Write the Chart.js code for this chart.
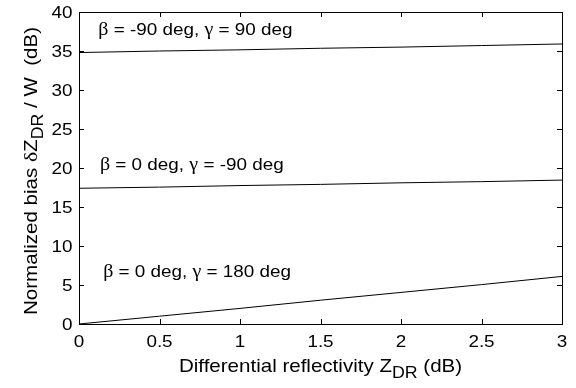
<!DOCTYPE html>
<html><head><meta charset="utf-8">
<script src="https://cdn.jsdelivr.net/npm/chart.js@4.4.1/dist/chart.umd.min.js"></script>
<style>html,body{margin:0;padding:0;background:#fff}#wrap{width:576px;height:388px}</style>
</head><body><div id="wrap"><canvas id="c" width="576" height="388"></canvas></div>
<script>
const zdr = [0, 0.5, 1, 1.5, 2, 2.5, 3];
const biasA = [34.8, 35.0, 35.15, 35.35, 35.5, 35.7, 35.9];
const biasB = [17.4, 17.55, 17.75, 17.9, 18.1, 18.25, 18.45];
const biasC = [0, 1.0, 2.0, 3.05, 4.05, 5.05, 6.1];
const xTicks = [0, 0.5, 1, 1.5, 2, 2.5, 3];
const yTicks = [0, 5, 10, 15, 20, 25, 30, 35, 40];
const xTickLabels = ['0', '0.5', '1', '1.5', '2', '2.5', '3'];
const yTickLabels = ['0', '5', '10', '15', '20', '25', '30', '35', '40'];
const labels = [
  {x: 0.12, y: 37.6, parts: [["β","g"],[" = -90 deg, ","s"],["γ","g"],[" = 90 deg","s"]]},
  {x: 0.13, y: 20.4, parts: [["β","g"],[" = 0 deg, ","s"],["γ","g"],[" = -90 deg","s"]]},
  {x: 0.15, y: 6.6, parts: [["β","g"],[" = 0 deg, ","s"],["γ","g"],[" = 180 deg","s"]]}
];
const SANS = '"Liberation Sans", Arial, sans-serif';
const SERIF = '"Liberation Serif", "DejaVu Serif", serif';
const HS = 1.11; // horizontal stretch of the reference lettering

function mk(vals){ return zdr.map((x,i)=>({x:x, y:vals[i]})); }

// runs: [text, family, size, dy]
function runWidth(ctx, runs){
  let w = 0;
  for (const r of runs){ ctx.font = r[2]+'px '+r[1]; w += ctx.measureText(r[0]).width; }
  return w * HS;
}
function drawRuns(ctx, runs, x, y, align){
  const w = runWidth(ctx, runs);
  let start = align === 'center' ? x - w/2 : align === 'right' ? x - w : x;
  ctx.save();
  ctx.translate(start, y);
  ctx.scale(HS, 1);
  let cx = 0;
  for (const r of runs){
    ctx.font = r[2]+'px '+r[1];
    ctx.fillText(r[0], cx, r[3] || 0);
    cx += ctx.measureText(r[0]).width;
  }
  ctx.restore();
}

const deco = {
  id: 'deco',
  afterDraw(chart){
    const ctx = chart.ctx, xs = chart.scales.x, ys = chart.scales.y, a = chart.chartArea;
    ctx.save();
    ctx.strokeStyle = '#000'; ctx.lineWidth = 1;
    ctx.strokeRect(Math.round(a.left)+0.5, Math.round(a.top)+0.5, Math.round(a.right-a.left), Math.round(a.bottom-a.top));
    ctx.beginPath();
    for (const v of xTicks){
      const px = Math.round(xs.getPixelForValue(v))+0.5;
      ctx.moveTo(px, a.bottom); ctx.lineTo(px, a.bottom-5);
      ctx.moveTo(px, a.top); ctx.lineTo(px, a.top+5);
    }
    for (const v of yTicks){
      const py = Math.round(ys.getPixelForValue(v))+0.5;
      ctx.moveTo(a.left, py); ctx.lineTo(a.left+5, py);
      ctx.moveTo(a.right, py); ctx.lineTo(a.right-5, py);
    }
    ctx.stroke();
    ctx.fillStyle = '#000';
    // tick labels
    ctx.textBaseline = 'alphabetic';
    xTicks.forEach((v,i)=>{
      drawRuns(ctx, [[xTickLabels[i], SANS, 17, 0]], xs.getPixelForValue(v), 347, 'center');
    });
    yTicks.forEach((v,i)=>{
      drawRuns(ctx, [[yTickLabels[i], SANS, 17, 0]], 72.5, ys.getPixelForValue(v) + 6, 'right');
    });
    // annotations
    ctx.textBaseline = 'middle';
    for (const L of labels){
      const runs = L.parts.map(p => p[1]==='g' ? [p[0], SERIF, 18, 0] : [p[0], SANS, 17, 0]);
      drawRuns(ctx, runs, xs.getPixelForValue(L.x), ys.getPixelForValue(L.y), 'left');
    }
    // x title
    ctx.textBaseline = 'alphabetic';
    const size = 18.5, ssz = 16;
    drawRuns(ctx, [['Differential reflectivity Z', SANS, size, 0], ['DR', SANS, ssz, 6], [' (dB)', SANS, size, 0]],
      (a.left + a.right)/2, 372, 'center');
    // y title
    ctx.save();
    ctx.translate(37, 171);
    ctx.rotate(-Math.PI/2);
    drawRuns(ctx, [['Normalized bias ', SANS, size, 0], ['δ', SERIF, size+1, 0], ['Z', SANS, size, 0], ['DR', SANS, ssz, 6], [' / W  (dB)', SANS, size, 0]], 0, 0, 'center');
    ctx.restore();
    ctx.restore();
  }
};

new Chart(document.getElementById('c'), {
  type: 'line',
  data: { datasets: [
    {data: mk(biasA), borderColor: '#000', borderWidth: 1, pointRadius: 0, fill: false, tension: 0},
    {data: mk(biasB), borderColor: '#000', borderWidth: 1, pointRadius: 0, fill: false, tension: 0},
    {data: mk(biasC), borderColor: '#000', borderWidth: 1, pointRadius: 0, fill: false, tension: 0}
  ]},
  options: {
    responsive: false, animation: false, devicePixelRatio: 1,
    layout: { padding: { left: 0, top: 12, right: 14, bottom: 0 } },
    plugins: { legend: {display: false}, tooltip: {enabled: false} },
    scales: {
      x: { type: 'linear', min: 0, max: 3,
        afterBuildTicks(s){ s.ticks = xTicks.map(v=>({value:v})); },
        afterFit(s){ s.height = 64; },
        grid: { display: false }, border: { display: false },
        ticks: { display: false } },
      y: { type: 'linear', min: 0, max: 40,
        afterBuildTicks(s){ s.ticks = yTicks.map(v=>({value:v})); },
        afterFit(s){ s.width = 79; },
        grid: { display: false }, border: { display: false },
        ticks: { display: false } }
    }
  },
  plugins: [deco]
});
</script></body></html>
